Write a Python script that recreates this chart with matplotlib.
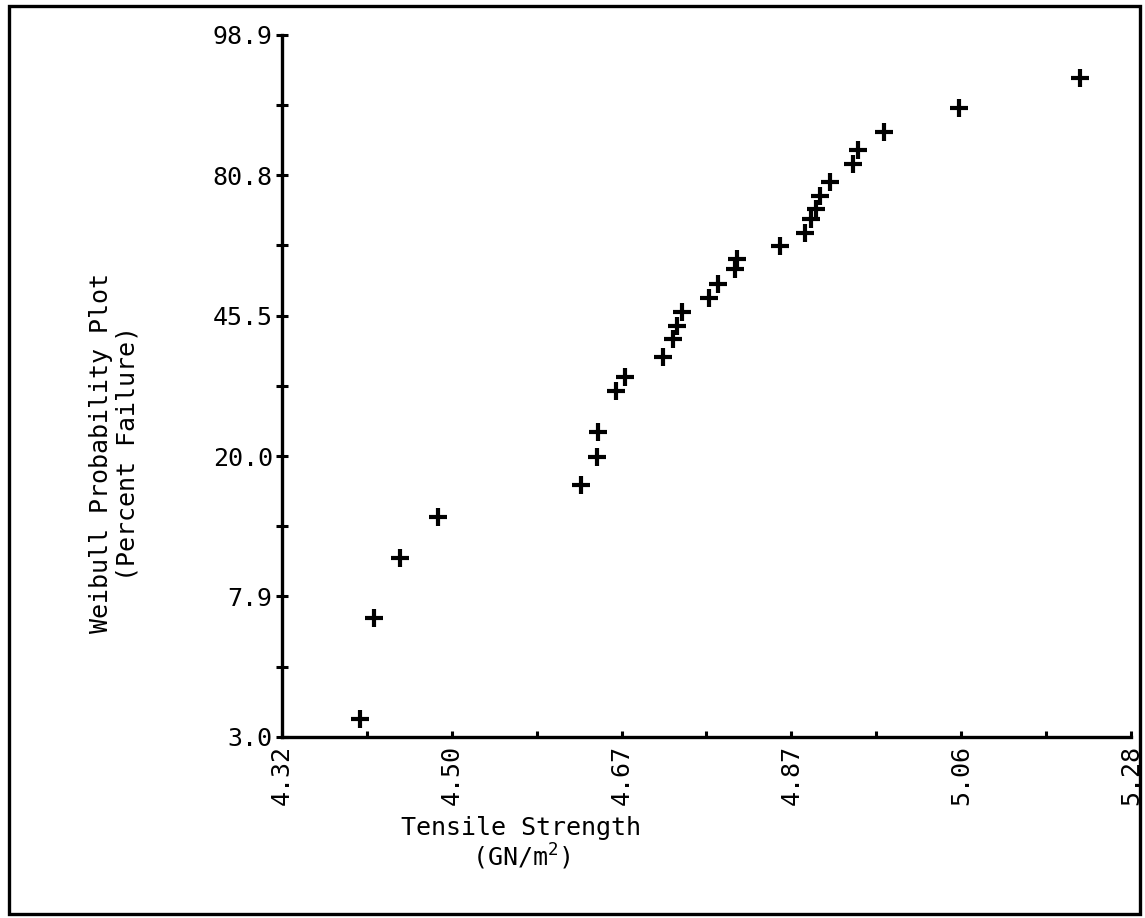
import numpy as np
import matplotlib.pyplot as plt
from matplotlib.ticker import FixedLocator, FixedFormatter, NullFormatter
from matplotlib.patches import Rectangle

# tensile strength (GN/m^2) and Weibull plotting position (percent failure)
strength = [4.401, 4.415, 4.442, 4.482, 4.636, 4.654, 4.655, 4.675, 4.685, 4.727,
            4.738, 4.743, 4.748, 4.779, 4.789, 4.808, 4.810, 4.860, 4.888, 4.895,
            4.901, 4.906, 4.917, 4.944, 4.950, 4.981, 5.069, 5.217]
pct_failure = [3.40, 6.86, 10.28, 13.58, 16.72, 19.97, 23.46, 30.10, 32.67, 36.50,
               40.33, 43.31, 46.66, 49.92, 53.49, 57.26, 59.86, 63.34, 66.82, 70.29,
               72.84, 76.14, 79.40, 83.40, 86.31, 89.62, 93.12, 96.36]

x_tick_labels = ["4.32", "4.50", "4.67", "4.87", "5.06", "5.28"]
y_tick_labels = ["3.0", "7.9", "20.0", "45.5", "80.8", "98.9"]
x_lo, x_hi = 4.32, 5.28
y_lo, y_hi = 3.0, 98.9

plt.rcParams['font.family'] = ['DejaVu Sans Mono']
plt.rcParams['mathtext.fontset'] = 'custom'
plt.rcParams['mathtext.rm'] = 'DejaVu Sans Mono'
plt.rcParams['mathtext.it'] = 'DejaVu Sans Mono'


# Weibull probability scale: ln(-ln(1-F))
def weib_fwd(p):
    p = np.clip(np.asarray(p, dtype=float) / 100.0, 1e-9, 1 - 1e-9)
    return np.log(-np.log(1 - p))


def weib_inv(u):
    u = np.asarray(u, dtype=float)
    return 100.0 * (1 - np.exp(-np.exp(u)))


fig = plt.figure(figsize=(11.45, 9.18), dpi=100)
ax = fig.add_axes([0.246, 0.1975, 0.742, 0.7644])

ax.plot(strength, pct_failure, linestyle='none', marker='+', color='black',
        markersize=13, markeredgewidth=3.0, clip_on=False)

ax.set_xscale('log')
ax.set_yscale('function', functions=(weib_fwd, weib_inv))
ax.set_xlim(x_lo, x_hi)
ax.set_ylim(y_lo, y_hi)

# ticks equally spaced in the transformed coordinates
lx = np.linspace(np.log(x_lo), np.log(x_hi), 11)
ax.xaxis.set_major_locator(FixedLocator(np.exp(lx[::2])))
ax.xaxis.set_major_formatter(FixedFormatter(x_tick_labels))
ax.xaxis.set_minor_locator(FixedLocator(np.exp(lx[1::2])))
ax.xaxis.set_minor_formatter(NullFormatter())

uy = np.linspace(float(weib_fwd(y_lo)), float(weib_fwd(y_hi)), 11)
ax.yaxis.set_major_locator(FixedLocator(weib_inv(uy[::2])))
ax.yaxis.set_major_formatter(FixedFormatter(y_tick_labels))
ax.yaxis.set_minor_locator(FixedLocator(weib_inv(uy[1::2])))
ax.yaxis.set_minor_formatter(NullFormatter())

for s in ['top', 'right']:
    ax.spines[s].set_visible(False)
for s in ['left', 'bottom']:
    ax.spines[s].set_linewidth(2.4)

ax.tick_params(axis='y', which='both', direction='inout', length=9, width=2.2,
               labelsize=18, pad=2)
ax.tick_params(axis='x', which='both', direction='in', length=4, width=2.2,
               labelsize=18, pad=6, labelrotation=90)

fig.text(0.0996, 0.5065, "Weibull Probability Plot\n(Percent Failure)", rotation=90,
         ha='center', va='center', multialignment='center', fontsize=18, linespacing=1.15)
fig.text(0.455, 0.098, "Tensile Strength", ha='center', va='center', fontsize=18)
fig.text(0.455, 0.067, "(GN/m$^{2}$)", ha='center', va='center', fontsize=18)

fig.patches.append(Rectangle((0.008, 0.004), 0.988, 0.989, transform=fig.transFigure,
                             fill=False, edgecolor='black', linewidth=2.4))

fig.savefig('out.png', dpi=100)
